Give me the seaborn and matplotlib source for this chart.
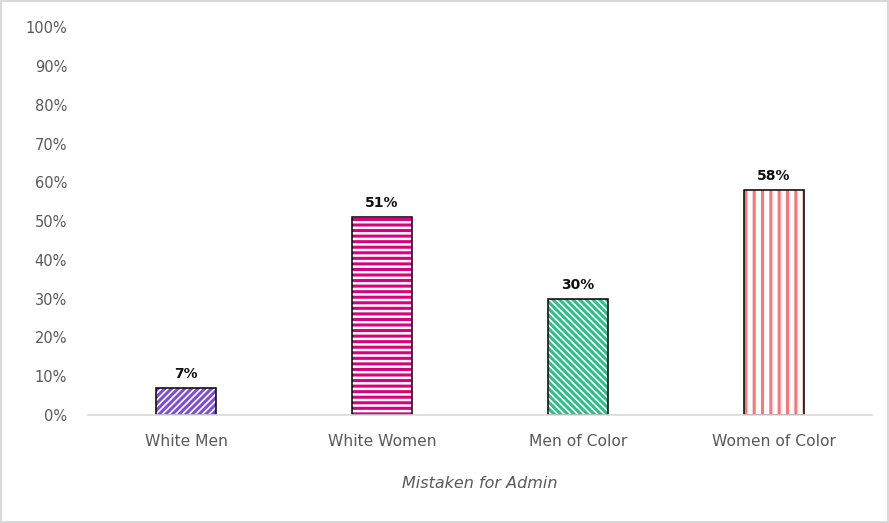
import matplotlib
matplotlib.use("Agg")
import matplotlib.pyplot as plt
import seaborn as sns
import pandas as pd

# =====================
# DATA
# =====================
groups = ["White Men", "White Women", "Men of Color", "Women of Color"]
shares = [7, 51, 30, 58]
bar_colors = ["#7B4FD9", "#D9007E", "#2DBE8A", "#FF7478"]
hatches = ["/////", "---", "\\\\\\\\\\", "||"]
y_ticks = list(range(0, 101, 10))

df = pd.DataFrame({"group": groups, "share": shares})

# =====================
# STYLE
# =====================
sns.set_style("white")
plt.rcParams["font.family"] = ["DejaVu Sans"]
plt.rcParams["hatch.linewidth"] = 2.2

fig = plt.figure(figsize=(8.89, 5.23), dpi=100, edgecolor="#D9D9D9", linewidth=1.5)
ax = fig.add_axes([0.099, 0.2065, 0.882, 0.7415])

# hatched fill, colored stripes
sns.barplot(data=df, x="group", y="share", color="white", width=0.31,
            edgecolor="black", linewidth=0, ax=ax)
for patch, col, h in zip(ax.patches, bar_colors, hatches):
    patch.set_facecolor("white")
    patch.set_edgecolor(col)
    patch.set_hatch(h)
    patch.set_linewidth(0)

# black outline on top
sns.barplot(data=df, x="group", y="share", fill=False, width=0.31,
            edgecolor="black", linewidth=1.1, ax=ax)

for i, v in enumerate(shares):
    ax.text(i, v + 1.8, f"{v}%", ha="center", va="bottom",
            fontsize=10, fontweight="bold", color="#111111")

ax.set_ylim(0, 100)
ax.set_xlim(-0.5, 3.5)
ax.set_yticks(y_ticks)
ax.set_yticklabels([f"{t}%" for t in y_ticks], fontsize=10.5, color="#595959")
ax.tick_params(axis="x", labelsize=11.2, labelcolor="#595959", length=0, pad=14)
ax.tick_params(axis="y", length=0, pad=15)
ax.set_xlabel("Mistaken for Admin", fontsize=11.5, style="italic", color="#595959", labelpad=19)
ax.set_ylabel("")

for s in ["top", "right", "left"]:
    ax.spines[s].set_visible(False)
ax.spines["bottom"].set_color("#D9D9D9")
ax.spines["bottom"].set_linewidth(1.2)

fig.savefig("out.png", dpi=100, edgecolor=fig.get_edgecolor())
plt.close(fig)
